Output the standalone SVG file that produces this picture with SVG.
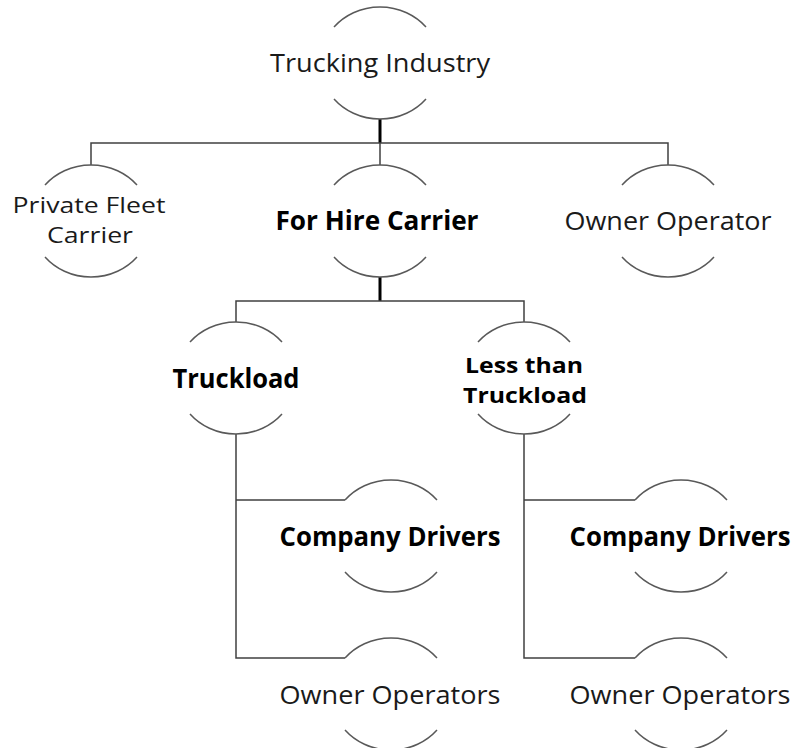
<svg xmlns="http://www.w3.org/2000/svg" width="792" height="748" viewBox="0 0 792 748">
<style>
.arc{fill:none;stroke:#595959;stroke-width:1.5}
.ln{fill:none;stroke:#404040;stroke-width:1.5}
.thick{fill:none;stroke:#000;stroke-width:3}
text{font-family:"Open Sans","Noto Sans",sans-serif;font-size:26px;fill:#1a1a1a;text-anchor:middle}
.b{font-weight:bold;fill:#000}
.two{font-size:22px}
</style>
<rect width="792" height="748" fill="#fff"/>
<g id="connectors">
<path class="thick" d="M380 119V143"/>
<path class="ln" d="M91 165V143H668V165M380 143V165"/>
<path class="thick" d="M380 277V301"/>
<path class="ln" d="M236 322V301H524V322"/>
<path class="ln" d="M236 434V658H345M236 500H345"/>
<path class="ln" d="M524 434V658H635M524 500H635"/>
</g>
<g id="n-trucking">
<path class="arc" d="M334 27A60 56 0 0 1 426 27M334 99A60 56 0 0 0 426 99"/>
<text x="380" y="72" textLength="220" lengthAdjust="spacingAndGlyphs">Trucking Industry</text>
</g>
<g id="n-private">
<path class="arc" d="M45 185A60 56 0 0 1 137 185M45 257A60 56 0 0 0 137 257"/>
<text class="two" x="89" y="213" textLength="153" lengthAdjust="spacingAndGlyphs">Private Fleet</text>
<text class="two" x="90" y="243" textLength="86" lengthAdjust="spacingAndGlyphs">Carrier</text>
</g>
<g id="n-forhire">
<path class="arc" d="M334 185A60 56 0 0 1 426 185M334 257A60 56 0 0 0 426 257"/>
<text class="b" x="377" y="230" textLength="203" lengthAdjust="spacingAndGlyphs">For Hire Carrier</text>
</g>
<g id="n-owner">
<path class="arc" d="M622 185A60 56 0 0 1 714 185M622 257A60 56 0 0 0 714 257"/>
<text x="668" y="230" textLength="207" lengthAdjust="spacingAndGlyphs">Owner Operator</text>
</g>
<g id="n-truckload">
<path class="arc" d="M190 342A60 56 0 0 1 282 342M190 414A60 56 0 0 0 282 414"/>
<text class="b" x="236" y="388" textLength="127" lengthAdjust="spacingAndGlyphs">Truckload</text>
</g>
<g id="n-ltl">
<path class="arc" d="M478 342A60 56 0 0 1 570 342M478 414A60 56 0 0 0 570 414"/>
<text class="b two" x="524" y="373" textLength="118" lengthAdjust="spacingAndGlyphs">Less than</text>
<text class="b two" x="525" y="403" textLength="124" lengthAdjust="spacingAndGlyphs">Truckload</text>
</g>
<g id="n-company1">
<path class="arc" d="M345 500A60 56 0 0 1 437 500M345 572A60 56 0 0 0 437 572"/>
<text class="b" x="390" y="546" textLength="221" lengthAdjust="spacingAndGlyphs">Company Drivers</text>
</g>
<g id="n-owners1">
<path class="arc" d="M345 658A60 56 0 0 1 437 658M345 730A60 56 0 0 0 437 730"/>
<text x="390" y="704" textLength="221" lengthAdjust="spacingAndGlyphs">Owner Operators</text>
</g>
<g id="n-company2">
<path class="arc" d="M635 500A60 56 0 0 1 727 500M635 572A60 56 0 0 0 727 572"/>
<text class="b" x="680" y="546" textLength="221" lengthAdjust="spacingAndGlyphs">Company Drivers</text>
</g>
<g id="n-owners2">
<path class="arc" d="M635 658A60 56 0 0 1 727 658M635 730A60 56 0 0 0 727 730"/>
<text x="680" y="704" textLength="221" lengthAdjust="spacingAndGlyphs">Owner Operators</text>
</g>
</svg>
